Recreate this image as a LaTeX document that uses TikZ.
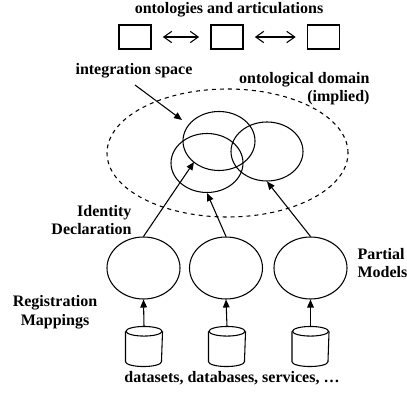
\documentclass[tikz,border=0pt]{standalone}
\usepackage{fontspec}
\setmainfont{Liberation Serif}
\usetikzlibrary{arrows.meta,shapes.geometric}
\tikzset{
  lbl/.style={font=\bfseries\fontsize{12}{14}\selectfont, inner sep=0pt},
  onto/.style={draw, minimum width=24pt, minimum height=18pt, inner sep=0pt},
  model/.style={draw, ellipse, minimum width=54pt, minimum height=44.25pt, inner sep=0pt},
  part/.style={draw, ellipse, minimum width=54.75pt, minimum height=46.5pt, inner sep=0pt},
  % bounding box of a data store; its outline is drawn from the anchors
  store/.style={minimum width=27pt, minimum height=29.25pt, inner sep=0pt},
  artic/.style={{Straight Barb[length=6pt,width=8.5pt]}-{Straight Barb[length=6pt,width=8.5pt]},
    shorten <=8.5pt, shorten >=8.5pt},
  feed/.style={-{Triangle[length=6pt,width=5pt]}},
}
\begin{document}
\begin{tikzpicture}[x=0.75pt, y=-0.75pt, line width=0.8pt]
\useasboundingbox (0,0) rectangle (407,395);

% ontologies and articulations
\node[lbl] (title) at (229,10) {ontologies and articulations};
\node[onto] (o1) at (135,37) {};
\node[onto] (o2) at (227,37) {};
\node[onto] (o3) at (323.5,37) {};
\draw[artic] (o1) -- (o2);
\draw[artic] (o2) -- (o3);

% ontological domain
\node[draw, dashed, ellipse, minimum width=180.75pt, minimum height=96pt, inner sep=0pt]
  (domain) at (227.5,153) {};
\node[lbl, align=right, anchor=east] (domlbl) at (370,88.5) {ontological domain\\(implied)};

% overlapping models in the integration space
\node[model] (mA) at (219,141) {};
\node[model] (mB) at (207,163) {};
\node[model] (mC) at (267,151.5) {};

\node[lbl] (islbl) at (134,71) {integration space};
\coordinate (isfrom) at (135,85);
\coordinate (isto) at (182,120);
\draw[feed] (isfrom) -- (isto);

% partial models
\node[part] (p1) at (143.5,268) {};
\node[part] (p2) at (226,268) {};
\node[part] (p3) at (310.5,268) {};

\coordinate (idto) at (194,162);
\draw[feed] (p1.north) -- (idto);
\draw[feed] (p2.north) -- (mB.south);
\draw[feed] (p3.north) -- (mC.south);

% data sources
\node[store] (s1) at (144,346.5) {};
\node[store] (s2) at (227,346.5) {};
\node[store] (s3) at (310.5,346.5) {};
\foreach \s in {s1,s2,s3} {
  \draw ([yshift=-3.6pt]\s.north) ellipse [x radius=13.5pt, y radius=3.6pt];
  \draw ([yshift=-3.6pt]\s.north west) -- ([yshift=3.6pt]\s.south west)
    arc [start angle=180, end angle=360, x radius=13.5pt, y radius=3.6pt]
    -- ([yshift=-3.6pt]\s.north east);
}
\draw[feed] (s1.north) -- (p1.south);
\draw[feed] (s2.north) -- (p2.south);
\draw[feed] (s3.north) -- (p3.south);

% labels
\node[lbl, align=right, anchor=east] (idlbl) at (132,220) {Identity\\Declaration};
\node[lbl, align=left, anchor=west] (pmlbl) at (357,263) {Partial\\Models};
\node[lbl, align=center] (rmlbl) at (55,312.5) {Registration\\Mappings};
\node[lbl] (dslbl) at (232,378) {datasets, databases, services, …};
\end{tikzpicture}
\end{document}
